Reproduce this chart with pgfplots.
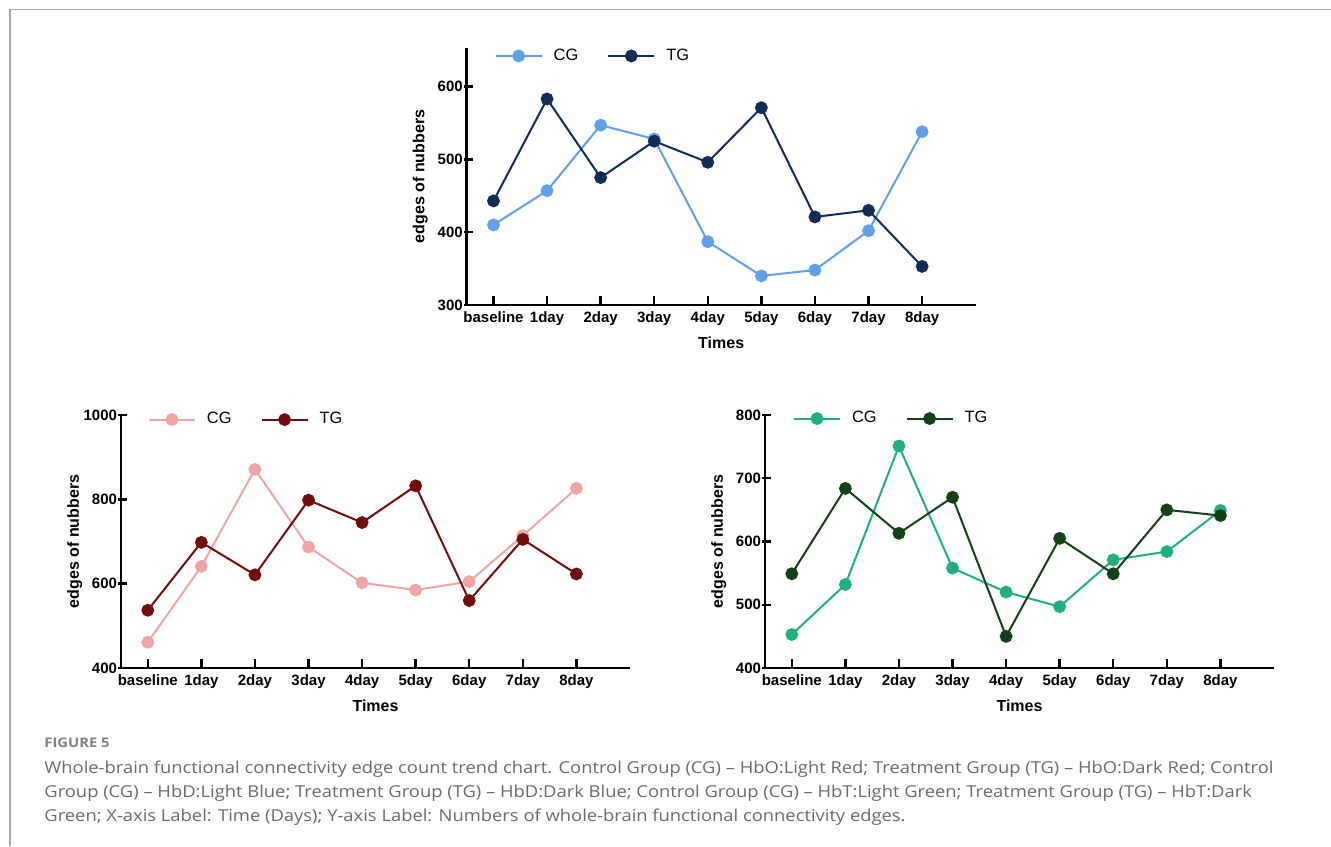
\documentclass[border=0pt]{standalone}
\usepackage{fontspec}
\setmainfont{Liberation Sans}
\newfontfamily\capfont[FakeStretch=1.12]{Open Sans}
\usepackage{pgfplots}
\usepackage{pgfplotstable}
\pgfplotsset{compat=1.18}

\definecolor{cgblue}{RGB}{95,160,232}
\definecolor{tgblue}{RGB}{16,44,88}
\definecolor{cgred}{RGB}{240,165,165}
\definecolor{tgred}{RGB}{115,12,12}
\definecolor{cggreen}{RGB}{32,176,124}
\definecolor{tggreen}{RGB}{16,66,22}
\definecolor{capgray}{RGB}{105,105,105}

\pgfplotstableread{
x cg tg
0 410 443
1 457 583
2 547 475
3 528 525
4 387 496
5 340 571
6 348 421
7 402 430
8 538 353
}\hbdtable
\pgfplotstableread{
x cg tg
0 461 537
1 641 698
2 871 621
3 687 798
4 602 745
5 585 832
6 605 560
7 714 705
8 826 623
}\hbotable
\pgfplotstableread{
x cg tg
0 453 549
1 532 684
2 751 613
3 558 670
4 520 450
5 497 605
6 571 549
7 584 650
8 649 641
}\hbttable

\pgfplotsset{
  panel/.style={
    scale only axis, width=254.5pt, anchor=south west, clip=false,
    axis lines*=left,
    axis line style={line width=1.4pt, black},
    xmin=-0.5, xmax=9,
    xtick={0,...,8},
    xticklabels={baseline,1day,2day,3day,4day,5day,6day,7day,8day},
    tick align=inside,
    major tick length=4.5pt,
    tick style={line width=1.2pt, black},
    ytick style={xshift=-1.5pt},
    /pgf/number format/assume math mode=true,
    /pgf/number format/set thousands separator={},
    ticklabel style={font=\bfseries\fontsize{7.5}{9}\selectfont, inner sep=0pt},
    yticklabel style={xshift=-1.8pt},
    xticklabel style={yshift=-3pt},
    every axis x label/.style={at={(axis description cs:0.5,0)}, anchor=center},
    every axis y label/.style={at={(axis description cs:-0.091,0.5)}, rotate=90, anchor=center},
    label style={font=\bfseries\fontsize{8}{9.6}\selectfont},
    xlabel={Times}, ylabel={edges of nubbers},
    legend columns=2,
    legend cell align=left,
    legend image code/.code={
      \draw[#1, mark repeat=2, mark phase=2] plot coordinates {(0pt,0pt) (11.5pt,0pt) (23pt,0pt)};
    },
    legend style={draw=none, fill=none, anchor=west, inner sep=0pt, outer sep=0pt,
      font=\fontsize{8.2}{9.8}\selectfont, column sep=5.5pt,
      nodes={inner sep=0pt},
      /tikz/every even column/.append style={column sep=14.5pt}},
  },
  ser/.style={line width=1pt, color=#1, mark=*, mark size=2.7pt, mark options={solid, fill=#1, draw=#1}},
}

\begin{document}
\begin{tikzpicture}
\path[use as bounding box] (0,0) rectangle (665.5pt,-423pt);
\draw[gray!70, line width=0.6pt] (5pt,-423pt) -- (5pt,-4.6pt) -- (665.5pt,-4.6pt);

% top panel: HbD
\begin{axis}[panel, at={(233.35pt,-152.5pt)}, height=128.5pt,
  ymin=300, ymax=653, ytick={300,400,500,600},
  xlabel style={yshift=-19pt},
  legend style={at={(rel axis cs:0.055,0.969)}}]
\addplot[ser=cgblue] table[x=x,y=cg] {\hbdtable};
\addplot[ser=tgblue] table[x=x,y=tg] {\hbdtable};
\legend{CG,TG}
\end{axis}

% bottom left: HbO
\begin{axis}[panel, at={(60.5pt,-334pt)}, height=126.5pt,
  ymin=400, ymax=1000, ytick={400,600,800,1000},
  xlabel style={yshift=-19pt},
  legend style={at={(rel axis cs:0.053,0.982)}}]
\addplot[ser=cgred] table[x=x,y=cg] {\hbotable};
\addplot[ser=tgred] table[x=x,y=tg] {\hbotable};
\legend{CG,TG}
\end{axis}

% bottom right: HbT
\begin{axis}[panel, at={(382.5pt,-334pt)}, height=126.5pt,
  ymin=400, ymax=800, ytick={400,500,600,700,800},
  xlabel style={yshift=-19pt},
  legend style={at={(rel axis cs:0.055,0.986)}}]
\addplot[ser=cggreen] table[x=x,y=cg] {\hbttable};
\addplot[ser=tggreen] table[x=x,y=tg] {\hbttable};
\legend{CG,TG}
\end{axis}

% caption
\node[anchor=base west, inner sep=0pt, text=capgray!85] at (22pt,-373.5pt)
  {\capfont\bfseries\fontsize{6.6}{8}\selectfont FIGURE 5};
\node[anchor=base west, inner sep=0pt, text=capgray] at (22pt,-386.5pt)
  {\capfont\fontsize{8.2}{9}\selectfont Whole-brain functional connectivity edge count trend chart. Control Group (CG) – HbO:Light Red; Treatment Group (TG) – HbO:Dark Red; Control};
\node[anchor=base west, inner sep=0pt, text=capgray] at (22pt,-398.5pt)
  {\capfont\fontsize{8.2}{9}\selectfont Group (CG) – HbD:Light Blue; Treatment Group (TG) – HbD:Dark Blue; Control Group (CG) – HbT:Light Green; Treatment Group (TG) – HbT:Dark};
\node[anchor=base west, inner sep=0pt, text=capgray] at (22pt,-410.5pt)
  {\capfont\fontsize{8.2}{9}\selectfont Green; X-axis Label: Time (Days); Y-axis Label: Numbers of whole-brain functional connectivity edges.};
\end{tikzpicture}
\end{document}
